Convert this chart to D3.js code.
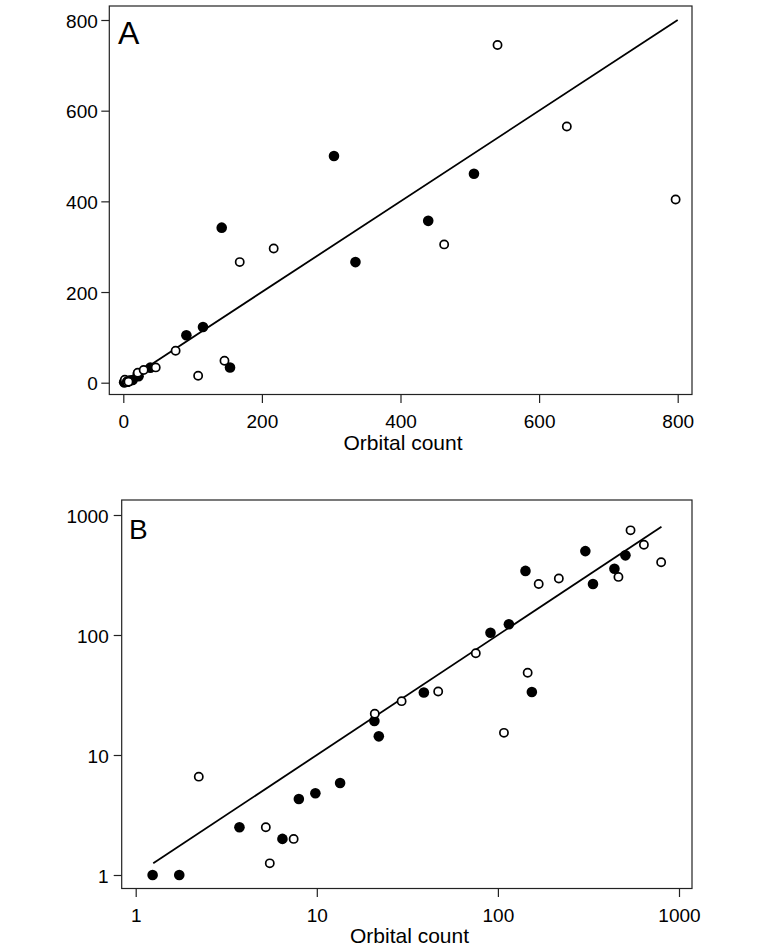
<!DOCTYPE html>
<html>
<head>
<meta charset="utf-8">
<script src="https://cdn.jsdelivr.net/npm/d3@7"></script>
<style>
  html, body { margin: 0; padding: 0; background: #fff; }
  svg { display: block; font-family: "Liberation Sans", Arial, Helvetica, sans-serif; }
</style>
</head>
<body>
<svg id="chart" width="763" height="950"></svg>
<script>
// ---- data ----
const filledX = [1.24, 1.74, 3.74, 6.46, 7.96, 9.82, 13.45, 20.8, 22.0, 39, 91, 115, 142, 154, 304, 335, 440, 506];
const filledY = [1, 1, 2.5, 2.0, 4.3, 4.8, 5.85, 19.2, 14.3, 33.2, 104.5, 123, 342, 33.5, 500, 266, 357, 461];
const openX = [2.23, 5.23, 5.5, 7.45, 20.9, 29.4, 46.8, 75.5, 108, 146, 168, 217, 463, 540, 640, 797];
const openY = [6.6, 2.5, 1.25, 2.0, 22.1, 28.1, 33.8, 70.5, 15.3, 48.5, 266, 296, 305, 745, 565, 404];
const lineX = [1.25, 800];
const lineY = [1.25, 800];
const ticksA = [0, 200, 400, 600, 800];
const ticksB = [1, 10, 100, 1000];
const axisTitle = "Orbital count";
const panelLabels = ["A", "B"];

const filled = filledX.map((x, i) => ({x, y: filledY[i]}));
const open = openX.map((x, i) => ({x, y: openY[i]}));
const fit = lineX.map((x, i) => ({x, y: lineY[i]}));

const svg = d3.select("#chart");

function drawPanel(p) {
  const g = svg.append("g");
  // frame
  g.append("rect")
    .attr("x", p.frame.l).attr("y", p.frame.t)
    .attr("width", p.frame.r - p.frame.l).attr("height", p.frame.b - p.frame.t)
    .attr("fill", "none").attr("stroke", "#222").attr("stroke-width", 1.2);

  // x axis
  const xa = g.append("g").attr("transform", `translate(0,${p.frame.b})`)
    .call(d3.axisBottom(p.x).tickValues(p.ticks).tickFormat(d3.format("d")).tickSize(8.5).tickPadding(0));
  xa.select(".domain").remove();
  xa.selectAll("line").attr("stroke", "#222").attr("stroke-width", 1.2);
  xa.selectAll("text").attr("font-size", 19).attr("fill", "#000")
    .attr("y", 33.5).attr("dy", 0);

  // y axis
  const ya = g.append("g").attr("transform", `translate(${p.frame.l},0)`)
    .call(d3.axisLeft(p.y).tickValues(p.ticks).tickFormat(d3.format("d")).tickSize(8).tickPadding(0));
  ya.select(".domain").remove();
  ya.selectAll("line").attr("stroke", "#222").attr("stroke-width", 1.2);
  ya.selectAll("text").attr("font-size", 19).attr("fill", "#000")
    .attr("x", -p.ylabGap).attr("dy", "0.38em");

  // axis title
  g.append("text").attr("x", p.titleX).attr("y", p.titleY)
    .attr("text-anchor", "middle").attr("font-size", 21).attr("fill", "#000")
    .text(axisTitle);

  // panel letter
  g.append("text").attr("x", p.letterX).attr("y", p.letterY)
    .attr("font-size", p.letterSize).attr("fill", "#000").text(p.letter);

  // fitted line
  g.append("path").datum(fit)
    .attr("d", d3.line().x(d => p.x(d.x)).y(d => p.y(d.y)))
    .attr("fill", "none").attr("stroke", "#000").attr("stroke-width", 1.8);

  // points
  g.selectAll("circle.f").data(filled).join("circle").attr("class", "f")
    .attr("cx", d => p.x(d.x)).attr("cy", d => p.y(d.y)).attr("r", 5.3)
    .attr("fill", "#000");
  g.selectAll("circle.o").data(open).join("circle").attr("class", "o")
    .attr("cx", d => p.x(d.x)).attr("cy", d => p.y(d.y)).attr("r", 4.1)
    .attr("fill", "#fff").attr("stroke", "#000").attr("stroke-width", 1.7);
}

drawPanel({
  frame: {l: 109.3, r: 692, t: 6, b: 394.5},
  x: d3.scaleLinear().domain([0, 800]).range([123.3, 677.7]),
  y: d3.scaleLinear().domain([0, 800]).range([382.7, 20]),
  ticks: ticksA,
  ylabGap: 11.5,
  titleX: 403, titleY: 449.5,
  letter: panelLabels[0], letterX: 118, letterY: 44, letterSize: 32
});

drawPanel({
  frame: {l: 121.7, r: 692, t: 500, b: 888.5},
  x: d3.scaleLog().domain([1, 1000]).range([135.7, 679]),
  y: d3.scaleLog().domain([1, 1000]).range([875, 515]),
  ticks: ticksB,
  ylabGap: 13,
  titleX: 409.5, titleY: 943,
  letter: panelLabels[1], letterX: 129, letterY: 538.5, letterSize: 28
});
</script>
</body>
</html>
